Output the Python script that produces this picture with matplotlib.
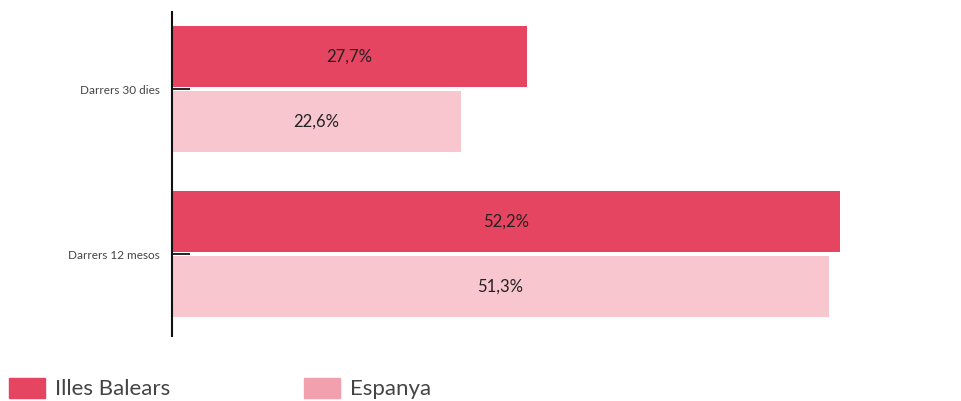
import matplotlib
matplotlib.use("Agg")
import matplotlib.pyplot as plt
from matplotlib.patches import Patch

plt.rcParams['font.family'] = ['Lato', 'DejaVu Sans']

# data
categories = ["Darrers 30 dies", "Darrers 12 mesos"]
illes_balears = [27.7, 52.2]
espanya = [22.6, 51.3]
series_names = ["Illes Balears", "Espanya"]

ib_color = "#E64562"
es_color = "#F7C6CF"
es_legend_color = "#F2A0AE"

fig = plt.figure(figsize=(9.61, 4.01), dpi=100)
# axes: x from 172px to ~940px, y from 12px to 336px
ax = fig.add_axes([172 / 961, 1 - 336 / 401, (940 - 172) / 961, (336 - 12) / 401])

pos = list(range(len(categories)))
off = 0.198
h = 0.372
ax.barh([p - off for p in pos], illes_balears, height=h, color=ib_color)
ax.barh([p + off for p in pos], espanya, height=h, color=es_color)

for p, v in zip(pos, illes_balears):
    ax.text(v / 2, p - off, f"{v:.1f}%".replace(".", ","), ha="center", va="center",
            fontsize=12, color="#222222")
for p, v in zip(pos, espanya):
    ax.text(v / 2, p + off, f"{v:.1f}%".replace(".", ","), ha="center", va="center",
            fontsize=12, color="#222222")

ax.set_xlim(0, 60)
ax.set_ylim(1.497, -0.467)
ax.set_yticks(pos)
ax.set_yticklabels(categories, fontsize=8.5, color="#444444")
ax.tick_params(axis="y", direction="in", length=13, width=1.2, pad=9)
ax.set_xticks([])
for s in ["top", "right", "bottom"]:
    ax.spines[s].set_visible(False)
ax.spines["left"].set_linewidth(1.5)
ax.spines["left"].set_color("#111111")

handles = [Patch(color=ib_color), Patch(color=es_legend_color)]
fig.legend(handles, series_names, loc="lower left", bbox_to_anchor=(9 / 961, 0.004),
           ncol=2, frameon=False, fontsize=16, handlelength=1.62, handleheight=1.05,
           handletextpad=0.45, columnspacing=6.0, labelcolor="#444444",
           borderpad=0, borderaxespad=0)

fig.savefig("out.png", dpi=100)
